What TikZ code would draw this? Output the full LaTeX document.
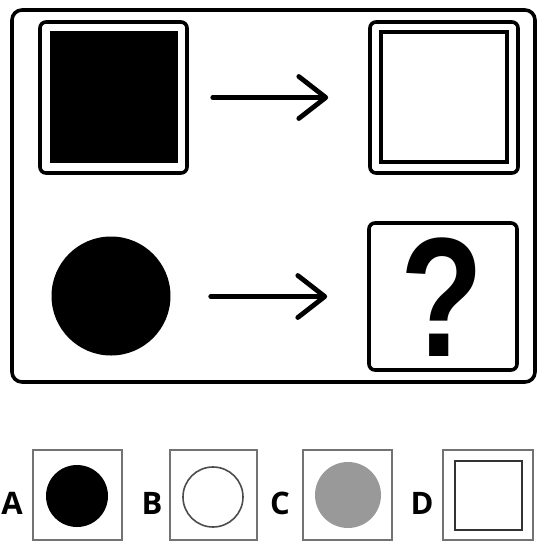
\documentclass[tikz,border=0pt]{standalone}
\usepackage{fontspec}
\setmainfont{Open Sans}
\newfontfamily\qfont{Liberation Sans}
\usetikzlibrary{arrows.meta}
\begin{document}
\begin{tikzpicture}[x=1pt,y=-1pt,
  frame/.style={draw=black,line width=3.6pt,rounded corners=6pt,inner sep=0pt},
  optbox/.style={draw=black!55,line width=1.4pt,minimum width=89pt,minimum height=90pt,inner sep=0pt},
  optlabel/.style={font=\fontsize{31}{31}\selectfont\bfseries,inner sep=0pt},
  arr/.style={line width=4.8pt,line cap=round,-{Straight Barb[length=27pt,width=42pt,line width=4.8pt,round]}}]
\useasboundingbox (0,0) rectangle (538,542);
% outer frame
\draw[line width=3.6pt,rounded corners=10pt] (12,10) rectangle (535,382);
% top left double square
\node[frame,minimum width=147pt,minimum height=151pt] (sq1) at (113.5,97.5) {};
\fill[black] (50,31) rectangle (178,163);
% top right double square
\node[frame,minimum width=148pt,minimum height=151pt] (sq2) at (444,97.5) {};
\draw[line width=3.6pt] (381,32) rectangle (507,162);
% bottom left circle
\node[circle,fill=black,minimum size=119pt,inner sep=0pt] (c1) at (111,296) {};
% question box
\node[frame,minimum width=148pt,minimum height=147pt] (q) at (443,296.5) {};
\node[font=\fontsize{170}{170}\selectfont\qfont\bfseries,inner sep=0pt,xscale=0.8] (qm) at (442,297) {?};
% arrows
\draw[arr,shorten <=24pt,shorten >=40pt] (sq1.east) -- (sq2.west);
\draw[arr,shorten <=40pt,shorten >=40pt] (c1.east |- q.west) -- (q.west);
% options
\node[optlabel] (la) at (12,503) {A};
\node[optbox] (ba) at (77.5,495) {};
\node[circle,fill=black,minimum size=62pt,inner sep=0pt] (ca) at (77,496) {};
\node[optlabel] (lb) at (152,503) {B};
\node[optbox,minimum width=87pt] (bb) at (213.5,495) {};
\node[circle,draw=black!70,line width=1.6pt,minimum size=60pt,inner sep=0pt] (cb) at (213,497) {};
\node[optlabel] (lc) at (280,503) {C};
\node[optbox] (bc) at (347.5,495) {};
\node[circle,fill=black!40,minimum size=66pt,inner sep=0pt] (cc) at (348,495) {};
\node[optlabel] (ld) at (422,503) {D};
\node[optbox,minimum width=90pt] (bd) at (488,495) {};
\node[draw=black!80,line width=2.4pt,minimum width=67pt,minimum height=69pt,inner sep=0pt] (sd) at (488.5,495.5) {};
\end{tikzpicture}
\end{document}
